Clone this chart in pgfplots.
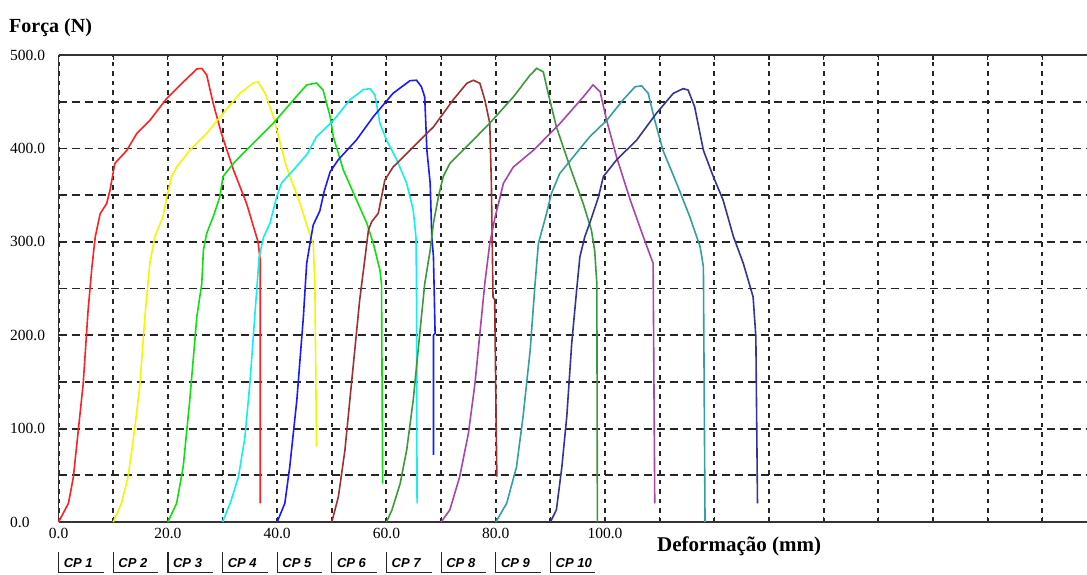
\documentclass[border=0pt]{standalone}
\usepackage{pgfplots}
\pgfplotsset{compat=1.18}
\usepackage{fontspec}
\setmainfont{Liberation Serif}
\newfontfamily\legfont{Liberation Sans}
\definecolor{cp1}{HTML}{FF2020}
\definecolor{cp2}{HTML}{F5F500}
\definecolor{cp3}{HTML}{10E010}
\definecolor{cp4}{HTML}{10F0F0}
\definecolor{cp5}{HTML}{1A1AFF}
\definecolor{cp6}{HTML}{A03030}
\definecolor{cp7}{HTML}{3A9A3A}
\definecolor{cp8}{HTML}{AA44AA}
\definecolor{cp9}{HTML}{33A0A0}
\definecolor{cp10}{HTML}{333399}
\begin{document}
\begin{tikzpicture}
\path[use as bounding box] (0,0) rectangle (1087pt,-574pt);
\begin{axis}[
  at={(58.6pt,-522pt)}, anchor=south west,
  width=1028.4pt, height=467pt, scale only axis,
  xmin=0, xmax=188.2, ymin=0, ymax=500,
  axis x line=box, axis y line=left,
  axis line style={-, line width=1.6pt, color=black!80},
  xtick={0,10,...,180},
  xticklabels={0.0,,20.0,,40.0,,60.0,,80.0,,100.0,,,,,,,,},
  ytick={0,50,...,500},
  yticklabels={0.0,,100.0,,200.0,,300.0,,400.0,,500.0},
  tick align=inside, major tick length=5pt,
  tick style={line width=1.2pt, black!85},
  grid=major,
  x grid style={black!85, line width=2pt, dash pattern=on 4.5pt off 5pt},
  y grid style={black!85, line width=1.8pt, dash pattern=on 8pt off 5pt},
  /pgf/number format/assume math mode=true,
  ticklabel style={font=\fontsize{15.5}{15.5}\selectfont},
  xticklabel style={yshift=-3pt},
  yticklabel style={anchor=west, inner sep=0pt, xshift=-48.6pt},
  clip=false,
  every axis plot/.append style={line width=1.6pt, no markers},
]
% CP 1
\addplot[cp1] coordinates {(0,0)(1.8,20)(2.7,48)(3.6,98)(4.5,148)(5.4,227)(6.1,273)(6.7,305)(7.6,330)(8.8,341)(9.4,355)(10.3,384)(12.5,398)(14.3,416)(16.7,430)(19.8,453.6)(22.8,471)(25.3,485)(26.2,485.7)(27.1,478.6)(28.3,448)(29.8,416)(32,377)(34.4,341)(36.5,300)(36.9,280)(36.9,20)};
% CP 2
\addplot[cp2] coordinates {(10,0)(11.5,20)(12.7,48)(13.9,98)(14.9,148)(15.8,220)(16.7,277)(17.6,305)(19.1,327)(19.8,348)(20.7,370)(21.6,380)(24,398)(27.1,416)(30.1,437.6)(33.2,459)(35.6,470)(36.5,471)(37.8,459)(39.3,434)(41.7,380)(44.2,341)(45.7,312.6)(46.6,298)(46.9,255.5)(47.2,80.6)};
% CP 3
\addplot[cp3] coordinates {(20,0)(21.6,20)(22.8,59)(24,130)(25.3,220)(26.2,255)(26.5,291)(27.1,309)(28.3,327)(29.5,348)(30.1,370)(32,384)(35,402)(39.3,427)(43,452)(45.4,468)(47.2,470)(48.4,462.5)(49.7,434)(50.3,412)(52.1,377)(54.5,345)(56.4,320)(57.6,298)(58.8,270)(59.1,255)(59.3,41)};
% CP 4
\addplot[cp4] coordinates {(30,0)(31.4,20)(32.9,48)(34.1,91)(35,148)(35.9,220)(36.7,284)(37.5,305)(38.7,320)(39.9,348)(40.8,363)(43,377)(45.5,394)(47.2,412.5)(50.3,430)(53.3,452)(55.8,463)(57,464)(57.9,457)(58.8,427)(60,409)(61.9,387.6)(63.7,362.6)(64.9,334)(65.4,305)(65.5,255)(65.6,20)};
% CP 5
\addplot[cp5] coordinates {(40,0)(41.4,20)(42.3,59)(43.6,130.6)(44.8,220)(45.4,277)(46,298)(46.6,318)(47.8,333)(48.6,354)(49.7,375)(51.2,388)(54.5,409)(57.6,434)(61.2,459)(64.3,472.5)(65.5,473)(66.4,466)(67,455)(67.4,398)(68,362.6)(68.3,305)(68.6,284)(68.9,202)(68.6,200)(68.6,72)};
% CP 6
\addplot[cp6] coordinates {(50,0)(51.2,27)(52.4,77)(53.3,130.6)(54.2,184)(55.1,237.7)(56.1,284)(56.7,312.6)(57.3,321.5)(58.5,330.5)(59.1,348)(59.7,366)(61.2,380)(64.3,398)(68.6,423)(72.2,452)(74.7,469.7)(75.9,473)(77.1,469.7)(78,452)(78.9,427)(79.2,362.6)(79.5,241)(79.8,238)(80.2,48.5)};
% CP 7
\addplot[cp7] coordinates {(60,0)(61,12.8)(62.5,41)(63.7,77)(64.9,130.6)(66.1,202)(67,255)(68,291)(68.6,320)(69.5,348)(70.4,370)(71.6,384)(74.7,402)(78.9,427)(83.2,455)(86.3,478.6)(87.5,485.7)(88.7,482)(89.6,459)(91.1,423)(93.6,380)(96,341)(97.5,312.6)(98.1,291)(98.5,255.5)(98.6,0)};
% CP 8
\addplot[cp8] coordinates {(70,0)(71.6,13)(73.4,48.5)(75,95)(76.2,148.5)(77.1,202)(78,255.5)(78.9,298)(79.9,327)(80.8,348)(81.4,362.6)(83.2,380)(86.9,398)(91.8,427)(96,455)(97.8,468)(99.1,460.7)(100.3,430)(102.1,391)(104.6,345)(107,305.5)(108.8,277)(109.1,20)};
% CP 9
\addplot[cp9] coordinates {(80,0)(82,20)(83.8,59)(85,113)(86.3,184)(87.2,255.5)(87.8,298)(89.3,330.5)(90.2,352)(91.7,373)(94.2,391)(97.2,412.5)(100.3,430)(103.3,452)(105.5,466)(106.7,467)(107.9,459)(109.1,430)(110.6,398)(113.1,362.6)(115.5,327)(117.4,294.8)(118,273.4)(118.3,0)};
% CP 10
\addplot[cp10] coordinates {(90,0)(91.1,13)(92.1,59)(93,113)(93.9,191)(94.8,248)(95.4,284)(96.3,305.5)(97.2,320)(98.8,348)(99.7,370)(102.1,387.6)(105.8,409)(109.4,437.6)(112.5,459)(114.3,464)(115.2,462.5)(116.4,444.6)(118,398)(119.8,370)(121.6,344.8)(123.5,305.5)(125.3,277)(127.1,241)(127.6,198.4)(127.9,20)};
\end{axis}
% titles
\node[anchor=west, inner sep=0pt, font=\bfseries\fontsize{20}{20}\selectfont] at (9pt,-28pt) {Força (N)};
\node[anchor=west, inner sep=0pt, font=\bfseries\fontsize{21}{21}\selectfont] at (657pt,-546pt) {Deformação (mm)};
% legend labels
\foreach \i in {1,...,10}{
  \pgfmathsetmacro{\xx}{58.6+54.65*(\i-1)}
  \pgfmathsetmacro{\xe}{\xx+45}
  \pgfmathsetmacro{\xt}{\xx+5}
  \draw[line width=1.2pt, black!85] (\xx pt,-552pt) -- (\xx pt,-572.5pt) -- (\xe pt,-572.5pt);
  \node[anchor=west, inner sep=0pt, font=\legfont\bfseries\itshape\fontsize{13}{13}\selectfont] at (\xt pt,-563pt) {CP \i};
}
\end{tikzpicture}
\end{document}
